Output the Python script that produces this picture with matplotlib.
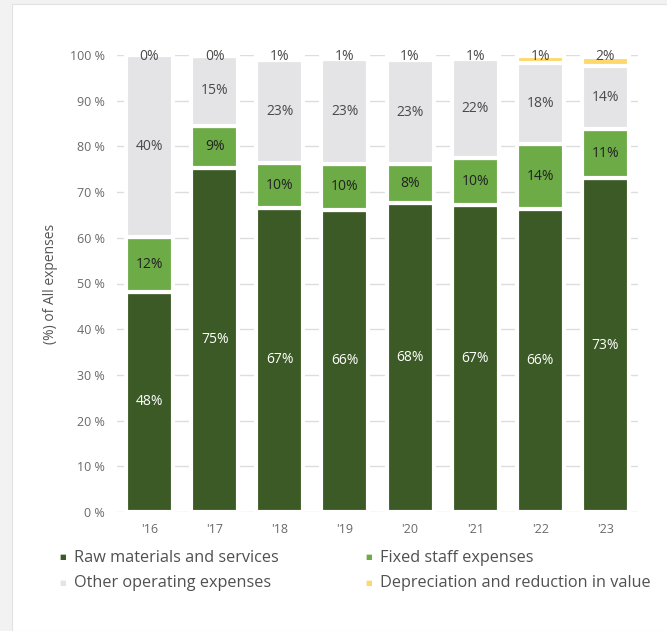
import matplotlib.pyplot as plt
from matplotlib.patches import Rectangle

years = ["'16", "'17", "'18", "'19", "'20", "'21", "'22", "'23"]
raw = [48.2, 75.3, 66.6, 66.1, 67.6, 67.2, 66.3, 73.0]
fixed = [11.9, 9.2, 9.7, 10.1, 8.5, 10.3, 14.2, 10.8]
other = [39.9, 15.3, 22.6, 22.9, 22.8, 21.6, 17.8, 13.9]
deprec = [0.0, 0.0, 0.7, 0.7, 0.8, 0.8, 1.4, 1.9]
raw_lbl = [48, 75, 67, 66, 68, 67, 66, 73]
fixed_lbl = [12, 9, 10, 10, 8, 10, 14, 11]
other_lbl = [40, 15, 23, 23, 23, 22, 18, 14]
deprec_lbl = [0, 0, 1, 1, 1, 1, 1, 2]
series = ['Raw materials and services', 'Fixed staff expenses',
          'Other operating expenses', 'Depreciation and reduction in value']

c_raw = '#3c5a25'
c_fixed = '#6dab47'
c_other = '#e4e3e5'
c_dep = '#fdd86a'

plt.rcParams['font.family'] = ['Open Sans', 'DejaVu Sans']

fig = plt.figure(figsize=(6.67, 6.31), dpi=100)
fig.patch.set_facecolor('#f2f2f2')
# white card
fig.add_artist(Rectangle((12 / 667, 0), 1, 1 - 4 / 631, transform=fig.transFigure,
                         facecolor='white', edgecolor='#e2e2e2', linewidth=0.8, zorder=0))

ax = fig.add_axes([117 / 667, 1 - 512 / 631, (638 - 117) / 667, (512 - 55) / 631])
ax.set_facecolor('none')

x = range(len(years))
w = 0.72
lw = 3.0
b1 = [r for r in raw]
b2 = [r + f for r, f in zip(raw, fixed)]
b3 = [a + o for a, o in zip(b2, other)]
ax.bar(x, raw, w, color=c_raw, edgecolor='white', linewidth=lw, zorder=2)
ax.bar(x, fixed, w, bottom=b1, color=c_fixed, edgecolor='white', linewidth=lw, zorder=2)
ax.bar(x, other, w, bottom=b2, color=c_other, edgecolor='white', linewidth=lw, zorder=2)
ax.bar(x, deprec, w, bottom=b3, color=c_dep, edgecolor='white', linewidth=lw, zorder=2)

for i in x:
    ax.text(i, raw[i] / 2, f'{raw_lbl[i]}%', ha='center', va='center', color='white', fontsize=10, zorder=3)
    ax.text(i, b1[i] + fixed[i] / 2, f'{fixed_lbl[i]}%', ha='center', va='center', color='#222222', fontsize=10, zorder=3)
    ax.text(i, b2[i] + other[i] / 2, f'{other_lbl[i]}%', ha='center', va='center', color='#4a4a4a', fontsize=10, zorder=3)
    ax.text(i, 99.6, f'{deprec_lbl[i]}%', ha='center', va='center', color='#4a4a4a', fontsize=10, zorder=3)

ax.set_xlim(-0.5, len(years) - 0.5)
ax.set_ylim(0, 100)
ax.set_yticks(range(0, 101, 10))
ax.set_yticklabels([f'{v} %' for v in range(0, 101, 10)])
ax.set_xticks(list(x))
ax.set_xticklabels(years)
ax.tick_params(axis='both', length=0, labelsize=9, colors='#6a6a6a')
ax.tick_params(axis='x', pad=8)
ax.tick_params(axis='y', pad=8.5)
ax.yaxis.grid(True, color='#dddddd', linewidth=1, zorder=0)
ax.set_axisbelow(True)
for s in ax.spines.values():
    s.set_visible(False)
ax.set_ylabel('(%) of All expenses', fontsize=10, color='#555555', labelpad=9)

# legend
cols = [c_raw, c_fixed, c_other, c_dep]
lxs = [63, 369, 63, 369]
lys = [558, 558, 583, 583]
for name, col, lx, ly in zip(series, cols, lxs, lys):
    fig.text(lx / 667, 1 - ly / 631, '\u25a0', color=col, fontsize=5, ha='center', va='center')
    fig.text((lx + 11) / 667, 1 - ly / 631, name, color='#505050', fontsize=11.7,
             ha='left', va='center')

fig.savefig('out.png', dpi=100)
